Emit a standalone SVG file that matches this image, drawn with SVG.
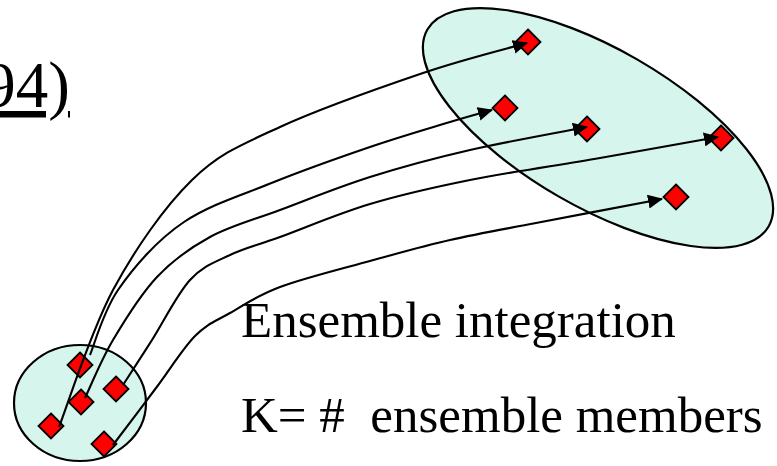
<svg xmlns="http://www.w3.org/2000/svg" width="777" height="466" viewBox="0 0 777 466">
<style>
.set{fill:#D5F5ED;stroke:#000;stroke-width:2.2}
.dia{fill:#FF0000;stroke:#000;stroke-width:1.8;stroke-linejoin:miter}
.con{fill:none;stroke:#000;stroke-width:2.1}
.txt{font-family:"Liberation Serif","Times New Roman",serif;fill:#000}
</style>
<defs>
<marker id="ah" markerUnits="userSpaceOnUse" markerWidth="15" markerHeight="14" viewBox="0 0 15 14" refX="14" refY="7" orient="auto">
<path d="M0,0 L15,7 L0,14 z" fill="#000"/>
</marker>
<path id="d" d="M0,-12.5 L12.5,0 L0,12.5 L-12.5,0 z"/>
</defs>

<g id="initial-ensemble">
<ellipse class="set" cx="80" cy="403" rx="66" ry="58"/>
<use href="#d" class="dia" x="80" y="365"/>
<use href="#d" class="dia" x="116" y="389"/>
<use href="#d" class="dia" x="81" y="402"/>
<use href="#d" class="dia" x="51" y="426"/>
<use href="#d" class="dia" x="104" y="444"/>
</g>

<g id="forecast-ensemble">
<ellipse class="set" cx="598" cy="128" rx="197" ry="79" transform="rotate(30 598 128)"/>
<use href="#d" class="dia" x="528" y="42"/>
<use href="#d" class="dia" x="505" y="108"/>
<use href="#d" class="dia" x="587" y="129"/>
<use href="#d" class="dia" x="721" y="138"/>
<use href="#d" class="dia" x="676" y="197"/>
</g>

<g id="connectors">
<path class="con" marker-end="url(#ah)" d="M59,427 C68,404 90.8,331.2 113,290 C135.2,248.8 164.2,207.2 192,180 C219.8,152.8 241.5,144.8 280,127 C318.5,109.2 381.8,87 423,73 C464.2,59 509.7,48 527,43"/>
<path class="con" marker-end="url(#ah)" d="M90,355 C94.5,344.2 103,312 118,290 C133,268 157,240 184,222 C211,204 244,194.5 274,182 C305.7,169.3 340.7,157 370,147 C399.3,137 429.7,128.2 450,122 C470.3,115.8 485,112 492,110"/>
<path class="con" marker-end="url(#ah)" d="M85,398 C89.7,388.3 101,360.2 113,340 C125,319.8 140.8,294.2 157,277 C173.2,259.8 189.5,248.2 210,237 C230.5,225.8 253.3,220 280,210 C306.7,200 338.3,187 370,177 C401.7,167 433.8,158.3 470,150 C506.2,141.7 567.5,130.8 587,127"/>
<path class="con" marker-end="url(#ah)" d="M123,385 C127.8,377.5 140.8,357.5 152,340 C163.2,322.5 177,294.2 190,280 C203,265.8 215,262.2 230,255 C245,247.8 256.7,245.5 280,237 C303.3,228.5 338.3,213.5 370,204 C401.7,194.5 431.7,187.7 470,180 C508.3,172.3 558.7,165.2 600,158 C641.3,150.8 698.3,140.5 718,137"/>
<path class="con" marker-end="url(#ah)" d="M113,445 C120.2,435.5 142.3,406.2 156,388 C169.7,369.8 182.7,348.5 195,336 C207.3,323.5 215.8,321.2 230,313 C244.2,304.8 256.7,295.7 280,287 C303.3,278.3 341.7,268.8 370,261 C398.3,253.2 422.3,246.3 450,240 C477.7,233.7 500.7,229.8 536,223 C571.3,216.2 641,203 662,199"/>
</g>

<g id="labels">
<text class="txt" x="70" y="107" font-size="65" text-anchor="end" text-decoration="underline">94)</text>
<text class="txt" x="241" y="337" font-size="51">Ensemble integration</text>
<text class="txt" x="241" y="432" font-size="51" xml:space="preserve">K= #  ensemble members</text>
</g>
</svg>
